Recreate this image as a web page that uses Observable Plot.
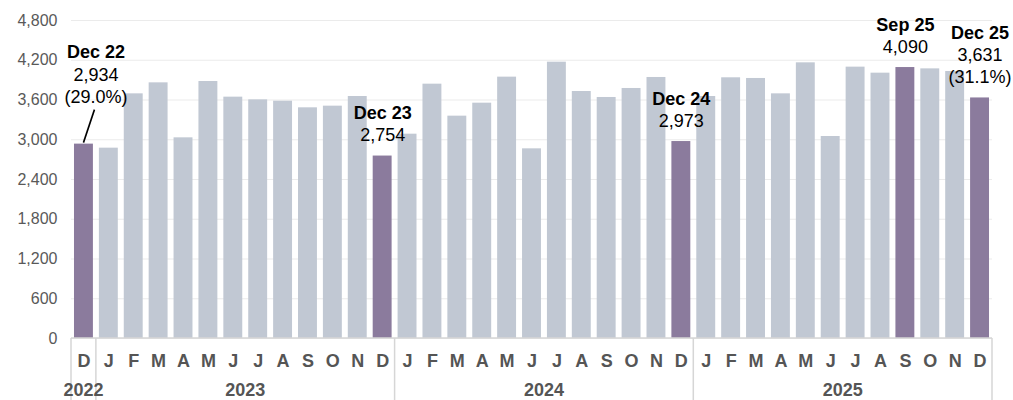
<!DOCTYPE html>
<html>
<head>
<meta charset="utf-8">
<script src="https://cdn.jsdelivr.net/npm/d3@7"></script>
<script src="https://cdn.jsdelivr.net/npm/@observablehq/plot@0.6"></script>
<style>
  body { margin: 0; background: #ffffff; }
  #chart svg { display: block; }
</style>
</head>
<body>
<div id="chart"></div>
<script>
// ---- Data ----
const periods = [
  "2022-12",
  "2023-01","2023-02","2023-03","2023-04","2023-05","2023-06","2023-07","2023-08","2023-09","2023-10","2023-11","2023-12",
  "2024-01","2024-02","2024-03","2024-04","2024-05","2024-06","2024-07","2024-08","2024-09","2024-10","2024-11","2024-12",
  "2025-01","2025-02","2025-03","2025-04","2025-05","2025-06","2025-07","2025-08","2025-09","2025-10","2025-11","2025-12"
];
const monthLetters = [
  "D",
  "J","F","M","A","M","J","J","A","S","O","N","D",
  "J","F","M","A","M","J","J","A","S","O","N","D",
  "J","F","M","A","M","J","J","A","S","O","N","D"
];
const values = [
  2934,
  2873, 3693, 3859, 3029, 3879, 3643, 3602, 3582, 3482, 3507, 3653, 2754,
  3084, 3839, 3356, 3552, 3945, 2863, 4171, 3728, 3638, 3774, 3940, 2973,
  3653, 3935, 3925, 3693, 4161, 3049, 4096, 4005, 4090, 4070, 4030, 3631
];
const years = ["2022", "2023", "2024", "2025"];
const yTicks = [0, 600, 1200, 1800, 2400, 3000, 3600, 4200, 4800];

const annotPeriods = ["2022-12", "2023-12", "2024-12", "2025-09", "2025-12"];
const annotNames   = ["Dec 22", "Dec 23", "Dec 24", "Sep 25", "Dec 25"];
const annotValues  = ["2,934", "2,754", "2,973", "4,090", "3,631"];
const annotShares  = ["(29.0%)", "", "", "", "(31.1%)"];
const annotLeader  = [true, false, false, false, false];

// ---- Styling ----
const GRAY = "#c1c8d3";
const PURPLE = "#8b7b9d";
const FONT = "'Liberation Sans', Arial, Helvetica, sans-serif";

// ---- Tables built from the arrays ----
const rows = periods.map((p, i) => ({
  period: p,
  letter: monthLetters[i],
  year: p.slice(0, 4),
  value: values[i],
  hl: annotPeriods.includes(p)
}));
const letterOf = new Map(rows.map(d => [d.period, d.letter]));

const annots = annotPeriods.map((p, i) => {
  const valueLines = [annotValues[i]].concat(annotShares[i] ? [annotShares[i]] : []);
  return {
    period: p,
    value: values[periods.indexOf(p)],
    leader: annotLeader[i],
    bold: [annotNames[i]].concat(valueLines.map(() => "")).join("\n"),
    regular: valueLines.join("\n")
  };
});
const plainAnnots = annots.filter(d => !d.leader);
const leaderAnnots = annots.filter(d => d.leader);

// ---- Custom grouped axis (box, separators, year labels) + leader line ----
function groupedAxis(index, scales, vals, dims) {
  const x = scales.x, y = scales.y;
  const step = x.step(), bw = x.bandwidth();
  const gap = step - bw;
  const y0 = y(0);
  const left = dims.marginLeft, right = dims.width - dims.marginRight;
  const g = d3.create("svg:g");
  const lineColor = "#d6d6d6";
  g.append("line")
    .attr("x1", left).attr("x2", right).attr("y1", y0).attr("y2", y0)
    .attr("stroke", lineColor).attr("stroke-width", 1.5);
  const bounds = [];
  for (const yr of years) {
    const ps = periods.filter(p => p.startsWith(yr));
    const xs = x(ps[0]) - gap / 2;
    const xe = x(ps[ps.length - 1]) + bw + gap / 2;
    bounds.push([yr, xs, xe]);
  }
  const edges = new Set();
  for (const [, xs, xe] of bounds) { edges.add(xs); edges.add(xe); }
  for (const e of edges) {
    g.append("line")
      .attr("x1", e).attr("x2", e).attr("y1", y0).attr("y2", dims.height)
      .attr("stroke", lineColor).attr("stroke-width", 1.5);
  }
  for (const [yr, xs, xe] of bounds) {
    g.append("text")
      .attr("x", (xs + xe) / 2).attr("y", y0 + 57.5)
      .attr("text-anchor", "middle")
      .attr("font-family", FONT).attr("font-size", 18).attr("font-weight", "bold")
      .attr("fill", "#555555")
      .text(yr);
  }
  for (const a of leaderAnnots) {
    const cx = x(a.period) + bw / 2;
    const cy = y(a.value);
    g.append("line")
      .attr("x1", cx).attr("y1", cy - 1)
      .attr("x2", cx + 11).attr("y2", cy - 34)
      .attr("stroke", "#000").attr("stroke-width", 1.6);
  }
  return g.node();
}

const chart = Plot.plot({
  width: 1013,
  height: 400,
  marginLeft: 71,
  marginRight: 21,
  marginTop: 20,
  marginBottom: 62,
  style: { fontFamily: FONT, background: "#ffffff" },
  x: { domain: periods, paddingInner: 0.24, paddingOuter: 0.12, label: null },
  y: { domain: [0, 4800], label: null },
  color: { domain: [false, true], range: [GRAY, PURPLE] },
  marks: [
    Plot.gridY(yTicks, { stroke: "#ebebeb", strokeOpacity: 1, strokeWidth: 1 }),
    Plot.axisY(yTicks, {
      tickSize: 0, tickPadding: 14, fontSize: 16, fill: "#595959",
      tickFormat: d3.format(","), label: null
    }),
    Plot.barY(rows, { x: "period", y: "value", fill: "hl" }),
    Plot.axisX({
      tickSize: 0, tickPadding: 16, fontSize: 18, fontWeight: "bold", fill: "#555555",
      tickFormat: p => letterOf.get(p), label: null
    }),
    groupedAxis,
    // annotations without leader line
    Plot.text(plainAnnots, {
      x: "period", y: "value", text: "bold", lineAnchor: "bottom", lineHeight: 1.22,
      dy: -15, fontSize: 18, fontWeight: "bold", fill: "#000"
    }),
    Plot.text(plainAnnots, {
      x: "period", y: "value", text: "regular", lineAnchor: "bottom", lineHeight: 1.22,
      dy: -15, fontSize: 18, fill: "#000"
    }),
    // annotation with leader line
    Plot.text(leaderAnnots, {
      x: "period", y: "value", text: "bold", lineAnchor: "bottom", lineHeight: 1.24,
      dx: 12, dy: -41, fontSize: 18, fontWeight: "bold", fill: "#000"
    }),
    Plot.text(leaderAnnots, {
      x: "period", y: "value", text: "regular", lineAnchor: "bottom", lineHeight: 1.24,
      dx: 12, dy: -41, fontSize: 18, fill: "#000"
    })
  ]
});

document.getElementById("chart").appendChild(chart);
</script>
</body>
</html>
